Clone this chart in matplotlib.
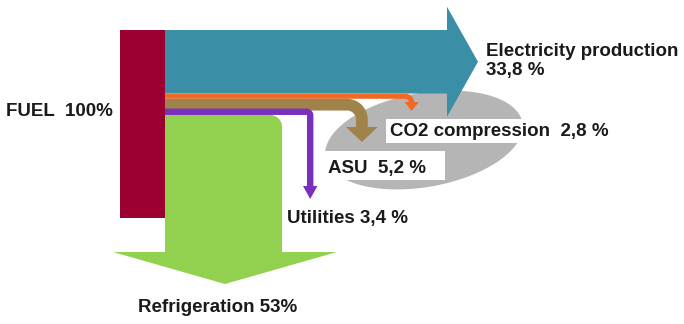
import numpy as np
import matplotlib
matplotlib.use('Agg')
import matplotlib.pyplot as plt
from matplotlib.patches import Polygon, Ellipse, Rectangle

# energy shares (% of fuel input)
fuel_share = 100.0
flows = ['Electricity production', 'CO2 compression', 'ASU', 'Utilities', 'Refrigeration']
shares = [33.8, 2.8, 5.2, 3.4, 53.0]
labels = ['Electricity production\n33,8 %', 'CO2 compression  2,8 %', 'ASU  5,2 %',
          'Utilities 3,4 %', 'Refrigeration 53%']
fuel_label = 'FUEL  100%'

colors = ['#3a8fa7', '#f06a24', '#a0834a', '#7a30bf', '#92d050']
fuel_color = '#9b0031'
gray = '#b5b5b5'
txt_color = '#1a1a1a'

W, H = 684, 324
SCALE = 1.88          # px per percent
X_FUEL, Y_TOP = 120, 30
FUEL_W = 45
X0 = X_FUEL + FUEL_W


def bend_down(x0, y0, t, x_in, r, y_head, head_w, head_len):
    # band going right from x0, turning down, vertical leg left edge at x_in
    cx, cy = x_in - r, y0 + t + r
    ro = r + t
    a = np.linspace(-np.pi / 2, 0, 24)
    pts = [(x0, y0), (cx, y0)]
    pts += list(zip(cx + ro * np.cos(a), cy + ro * np.sin(a)))
    pts += [(x_in + t, y_head), (x_in + t + head_w, y_head),
            (x_in + t / 2, y_head + head_len),
            (x_in - head_w, y_head), (x_in, y_head)]
    pts += list(zip(cx + r * np.cos(a[::-1]), cy + r * np.sin(a[::-1])))
    pts += [(x0, y0 + t)]
    return pts


fig = plt.figure(figsize=(6.84, 3.24), dpi=100)
ax = fig.add_axes([0, 0, 1, 1])
ax.set_xlim(0, W)
ax.set_ylim(H, 0)
ax.axis('off')

# gray cycle shape behind ASU / CO2
ax.add_patch(Ellipse((424, 140), 200, 94, angle=-10, fc=gray, ec='none', zorder=1))
ax.add_patch(Rectangle((322, 151), 123, 29, fc='white', ec='none', zorder=1.5))

# fuel bar
ax.add_patch(Rectangle((X_FUEL, Y_TOP), FUEL_W, fuel_share * SCALE,
                       fc=fuel_color, ec='none', zorder=4))

tops = Y_TOP + np.concatenate([[0], np.cumsum(shares)[:-1]]) * SCALE
thick = np.array(shares) * SCALE

# electricity: straight arrow
t = thick[0]
yc = tops[0] + t / 2
elec = [(X0, tops[0]), (447, tops[0]), (447, yc - 55), (478, yc),
        (447, yc + 55), (447, tops[0] + t), (X0, tops[0] + t)]
ax.add_patch(Polygon(elec, closed=True, fc=colors[0], ec='none', zorder=3))

# CO2 compression, ASU, utilities: bent arrows
ax.add_patch(Polygon(bend_down(X0, tops[1], thick[1], 409, 4, 102, 4.5, 9),
                     closed=True, fc=colors[1], ec='none', zorder=3))
ax.add_patch(Polygon(bend_down(X0, tops[2], thick[2] * 1.2, 356, 9, 127, 10, 15),
                     closed=True, fc=colors[2], ec='none', zorder=3))
ax.add_patch(Polygon(bend_down(X0, tops[3], thick[3], 307, 0.5, 186, 4, 13),
                     closed=True, fc=colors[3], ec='none', zorder=3))

# refrigeration: downward arrow with rounded top-right corner
g_top = tops[4]
g_right = 282
rc = 12
a = np.linspace(-np.pi / 2, 0, 20)
refr = [(X0, g_top), (g_right - rc, g_top)]
refr += list(zip(g_right - rc + rc * np.cos(a), g_top + rc + rc * np.sin(a)))
refr += [(g_right, 252), (337, 252), (225, 284), (113, 252), (X0, 252)]
ax.add_patch(Polygon(refr, closed=True, fc=colors[4], ec='none', zorder=2))

fs = 13.5
kw = dict(fontsize=fs, fontweight='bold', color=txt_color,
          family='Liberation Sans', va='center', ha='left', zorder=6)
ax.text(6, 112, fuel_label, **kw)
ax.text(486, 61, labels[0], linespacing=1.15, **kw)
ax.text(390, 131, labels[1],
        bbox=dict(boxstyle='square,pad=0.2', fc='white', ec='none'), **kw)
ax.text(328, 168, labels[2], **kw)
ax.text(287, 218, labels[3], **kw)
ax.text(138, 307, labels[4], **kw)

fig.savefig('out.png', dpi=100)
